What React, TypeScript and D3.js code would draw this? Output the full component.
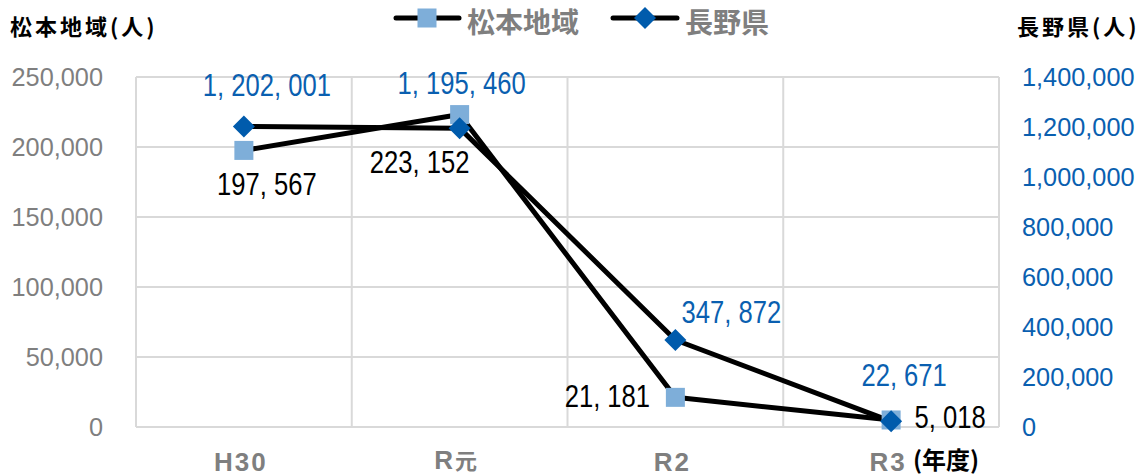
import React from "react";
import * as d3 from "d3";

const categories = ["H30", "R元", "R2", "R3"];
const matsumotoValues = [197567, 223152, 21181, 5018];
const naganoValues = [1202001, 1195460, 347872, 22671];
const leftTicks = [0, 50000, 100000, 150000, 200000, 250000];
const rightTicks = [0, 200000, 400000, 600000, 800000, 1000000, 1200000, 1400000];
const seriesNames = ["松本地域", "長野県"];

// label offsets (style, relative to the point)
const matsumotoLabelOffsets = [[23, 45], [-40, 58], [-68, 10], [59, 8]];
const naganoLabelOffsets = [[23, -30], [2, -34], [56, -17], [13, -35]];

const W = 1145, H = 476;
const plot = { left: 136, right: 999, top: 77, bottom: 427 };
const GRAY = "#7f7f7f";
const BLUE = "#0a5fb0";
const SQUARE = "#7eaed9";
const DIAMOND = "#005bac";
const CJK = "'Noto Sans CJK JP', sans-serif";
const fmtLabel = (v: number) => d3.format(",")(v).replace(/,/g, ", ");

function NarrowText({ x, y, children, fill, size = 32, sx = 0.8, anchor = "middle", bold = false, ls = 0 }: any) {
  return (
    <g transform={`translate(${x},${y}) scale(${sx},1)`}>
      <text x={0} y={0} textAnchor={anchor} fontSize={size} fill={fill} fontWeight={bold ? "bold" : "normal"}
        letterSpacing={ls} fontFamily="'Liberation Sans', Arial, sans-serif">{children}</text>
    </g>
  );
}

export default function App() {
  const x = d3.scaleBand().domain(categories).range([plot.left, plot.right]);
  const yL = d3.scaleLinear().domain([0, 250000]).range([plot.bottom, plot.top]);
  const yR = d3.scaleLinear().domain([0, 1400000]).range([plot.bottom, plot.top]);
  const cx = (c: string) => (x(c) as number) + x.bandwidth() / 2;
  const line = d3.line<[number, number]>().x(d => d[0]).y(d => d[1]);
  const mPts: [number, number][] = categories.map((c, i) => [cx(c), yL(matsumotoValues[i])]);
  const nPts: [number, number][] = categories.map((c, i) => [cx(c), yR(naganoValues[i])]);
  const fmt = d3.format(",");
  const sq = 19, dm = 11;
  const square = (px: number, py: number, k: string) => (
    <rect key={k} x={px - sq / 2} y={py - sq / 2} width={sq} height={sq} fill={SQUARE} />
  );
  const diamond = (px: number, py: number, k: string) => (
    <path key={k} d={`M${px},${py - dm}L${px + dm},${py}L${px},${py + dm}L${px - dm},${py}Z`} fill={DIAMOND} />
  );
  const bounds = [...categories.map(c => x(c) as number), plot.right];
  const isLatin = (ch: string) => /[A-Za-z0-9]/.test(ch);

  return (
    <svg width={W} height={H} style={{ position: "absolute", left: 0, top: 0, background: "#fff" }}
      fontFamily="'Liberation Sans', Arial, sans-serif">
      {/* grid */}
      {leftTicks.map(t => (
        <line key={"h" + t} x1={plot.left} x2={plot.right} y1={yL(t)} y2={yL(t)} stroke="#d9d9d9" strokeWidth={2} />
      ))}
      {bounds.map((b, i) => (
        <line key={"v" + i} x1={b} x2={b} y1={plot.top} y2={plot.bottom} stroke="#d9d9d9" strokeWidth={2} />
      ))}
      {/* left axis */}
      {leftTicks.map(t => (
        <text key={"lt" + t} x={103} y={yL(t)} dy="0.35em" textAnchor="end" fontSize={25.3} fill={GRAY}>{fmt(t)}</text>
      ))}
      {/* right axis */}
      {rightTicks.map(t => (
        <text key={"rt" + t} x={1022} y={yR(t)} dy="0.35em" textAnchor="start" fontSize={25.3} fill={BLUE}>{fmt(t)}</text>
      ))}
      {/* axis titles */}
      <text x={10} y={35} fontSize={22} fontWeight="bold" letterSpacing={3} fontFamily={CJK} fill="#000">松本地域(人)</text>
      <text x={1017} y={35} fontSize={22} fontWeight="bold" letterSpacing={3} fontFamily={CJK} fill="#000">長野県(人)</text>
      {/* x labels */}
      {categories.map(c => (
        <text key={"x" + c} x={cx(c) - 3} y={c.split("").some(ch => !isLatin(ch)) ? 469 : 471} textAnchor="middle"
          fontSize={26} fontWeight="bold" letterSpacing={2} fill={GRAY}>
          {c.split("").map((ch, j) => (
            <tspan key={j} fontFamily={isLatin(ch) ? "'Liberation Sans', Arial, sans-serif" : CJK}
              fontSize={isLatin(ch) ? 26 : 22}>{ch}</tspan>
          ))}
        </text>
      ))}
      <text x={913} y={469} fontSize={24} fontWeight="bold" fontFamily={CJK} fill="#000">(年度)</text>
      {/* lines */}
      <path d={line(mPts) as string} fill="none" stroke="#000" strokeWidth={5} strokeLinejoin="round" />
      <path d={line(nPts) as string} fill="none" stroke="#000" strokeWidth={5} strokeLinejoin="round" />
      {mPts.map((p, i) => square(p[0], p[1], "s" + i))}
      {nPts.map((p, i) => diamond(p[0], p[1], "d" + i))}
      {/* data labels */}
      {mPts.map((p, i) => (
        <NarrowText key={"ml" + i} x={p[0] + matsumotoLabelOffsets[i][0]} y={p[1] + matsumotoLabelOffsets[i][1]}
          fill="#000">{fmtLabel(matsumotoValues[i])}</NarrowText>
      ))}
      {nPts.map((p, i) => (
        <NarrowText key={"nl" + i} x={p[0] + naganoLabelOffsets[i][0]} y={p[1] + naganoLabelOffsets[i][1]}
          fill={BLUE}>{fmtLabel(naganoValues[i])}</NarrowText>
      ))}
      {/* legend */}
      <line x1={396} x2={459} y1={18} y2={18} stroke="#000" strokeWidth={5} strokeLinecap="round" />
      {square(427, 18, "lg1")}
      <text x={467} y={32.5} fontSize={28} fontWeight="bold" fontFamily={CJK} fill={GRAY}>{seriesNames[0]}</text>
      <line x1={613} x2={677} y1={18} y2={18} stroke="#000" strokeWidth={5} strokeLinecap="round" />
      {diamond(645, 18, "lg2")}
      <text x={685} y={32.5} fontSize={28} fontWeight="bold" fontFamily={CJK} fill={GRAY}>{seriesNames[1]}</text>
    </svg>
  );
}
